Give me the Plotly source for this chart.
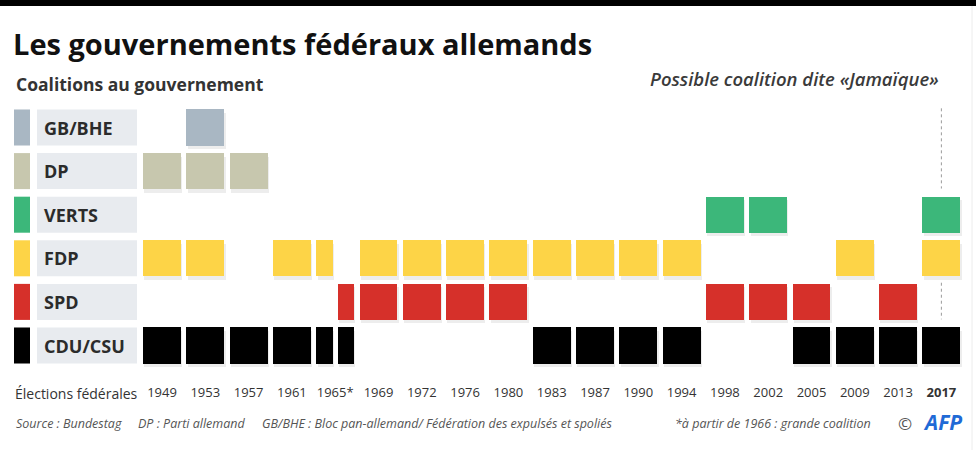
import plotly.graph_objects as go

# ---------------- data ----------------
elections = ["1949", "1953", "1957", "1961", "1965", "1969", "1972", "1976", "1980",
             "1983", "1987", "1990", "1994", "1998", "2002", "2005", "2009", "2013", "2017"]
tick_labels = ["1949", "1953", "1957", "1961", "1965*", "1969", "1972", "1976", "1980",
               "1983", "1987", "1990", "1994", "1998", "2002", "2005", "2009", "2013", "<b>2017</b>"]
# mid-term change of government: cabinet -> legislature it belongs to
midterm = {"1966": "1965"}

parties = ["GB/BHE", "DP", "VERTS", "FDP", "SPD", "CDU/CSU"]
gb_bhe = ["1953"]
dp = ["1949", "1953", "1957"]
verts = ["1998", "2002", "2017"]
fdp = ["1949", "1953", "1961", "1965", "1969", "1972", "1976", "1980", "1983", "1987",
       "1990", "1994", "2009", "2017"]
spd = ["1966", "1969", "1972", "1976", "1980", "1998", "2002", "2005", "2013"]
cdu_csu = ["1949", "1953", "1957", "1961", "1965", "1966", "1983", "1987", "1990", "1994",
           "2005", "2009", "2013", "2017"]
membership = [gb_bhe, dp, verts, fdp, spd, cdu_csu]
jamaica_year = "2017"

footer_notes = ["Source : Bundestag", "DP : Parti allemand",
                "GB/BHE : Bloc pan-allemand/ Fédération des expulsés et spoliés"]

# ---------------- styles ----------------
colors = ["#a9b7c3", "#c7c7ae", "#3cb77a", "#fdd447", "#d6302a", "#000000"]
W, H = 980, 450
M_T, M_B = 100, 75
X0_PX, PITCH_X = 143, 43.3
Y0_PX, PITCH_Y = 127.5, 43.6
BOX = 0.877
THICK = 0.826
footer_x_px = [14, 136, 260]

x_range = [(0 - X0_PX) / PITCH_X, (W - X0_PX) / PITCH_X]
y_range = [(H - M_B - Y0_PX) / PITCH_Y, (M_T - Y0_PX) / PITCH_Y]


def px_x(p):
    return p / W


def px_y(p):
    return (H - M_B - p) / (H - M_T - M_B)


def span(cab):
    if cab in midterm:
        col = elections.index(midterm[cab])
        return col + 0.5, col + BOX
    col = elections.index(cab)
    if cab in midterm.values():
        return col, col + 0.5 - (1 - BOX)
    return col, col + BOX


fig = go.Figure()

# soft shadows
for r, cabs in enumerate(membership):
    s = [span(c) for c in cabs]
    fig.add_trace(go.Bar(
        orientation="h", y=[r + 0.08] * len(s), base=[a + 0.03 for a, b in s],
        x=[b - a for a, b in s], width=THICK, marker=dict(color="rgba(0,0,0,0.07)", line=dict(width=0)),
        hoverinfo="skip", showlegend=False))

for r, (name, cabs) in enumerate(zip(parties, membership)):
    s = [span(c) for c in cabs]
    fig.add_trace(go.Bar(
        orientation="h", y=[r] * len(s), base=[a for a, b in s], x=[b - a for a, b in s],
        width=THICK, marker=dict(color=colors[r], line=dict(width=0)), name=name,
        showlegend=False))

# dotted line in 2017 column for rows outside the possible coalition
col17 = elections.index(jamaica_year) + BOX / 2
rows_out = [r for r, cabs in enumerate(membership) if jamaica_year not in cabs]
groups = []
for r in rows_out:
    if groups and groups[-1][-1] == r - 1:
        groups[-1].append(r)
    else:
        groups.append([r])
for g in groups:
    fig.add_trace(go.Scatter(x=[col17, col17], y=[g[0] - 0.44, g[-1] + 0.4], mode="lines",
                             line=dict(color="#9a9a9a", width=1, dash="dot"),
                             hoverinfo="skip", showlegend=False))

shapes = []
annotations = []
# top black band
shapes.append(dict(type="rect", xref="paper", yref="paper", x0=0, x1=px_x(976),
                   y0=px_y(6), y1=px_y(0), fillcolor="#000", line=dict(width=0), layer="above"))
# faint right border
shapes.append(dict(type="line", xref="paper", yref="paper", x0=px_x(972), x1=px_x(972),
                   y0=px_y(450), y1=px_y(6), line=dict(color="#ececec", width=1)))
# row label boxes
for r, name in enumerate(parties):
    shapes.append(dict(type="rect", xref="paper", yref="y", x0=px_x(14), x1=px_x(30),
                       y0=r - THICK / 2, y1=r + THICK / 2, fillcolor=colors[r], line=dict(width=0)))
    shapes.append(dict(type="rect", xref="paper", yref="y", x0=px_x(37), x1=px_x(137),
                       y0=r - THICK / 2, y1=r + THICK / 2, fillcolor="#e8ebef", line=dict(width=0)))
    annotations.append(dict(text=name, xref="paper", yref="y", x=px_x(42), y=r,
                            xanchor="left", yanchor="middle", showarrow=False,
                            font=dict(family="Open Sans", size=18, color="#2b2b2b", weight="bold")))

foot_font = dict(family="Open Sans", size=12.5, color="#555")
for txt, xp in zip(footer_notes, footer_x_px):
    annotations.append(dict(text="<i>" + txt + "</i>", xref="paper", yref="paper", x=px_x(xp),
                            y=px_y(423), xanchor="left", yanchor="middle", showarrow=False,
                            font=foot_font))

annotations += [
    dict(text="Coalitions au gouvernement", xref="paper", yref="paper", x=px_x(14), y=px_y(84),
         xanchor="left", yanchor="middle", showarrow=False,
         font=dict(family="Open Sans", size=17.5, color="#333", weight="bold")),
    dict(text="<i>Possible coalition dite «Jamaïque»</i>", xref="paper", yref="paper",
         x=px_x(941), y=px_y(79), xanchor="right", yanchor="middle", showarrow=False,
         font=dict(family="Open Sans", size=18.5, color="#3a3a3a", weight=600)),
    dict(text="Élections fédérales", xref="paper", yref="paper", x=px_x(13), y=px_y(393),
         xanchor="left", yanchor="middle", showarrow=False,
         font=dict(family="Open Sans", size=14, color="#333")),
    dict(text="<i>*à partir de 1966 : grande coalition</i>", xref="paper", yref="paper",
         x=px_x(873), y=px_y(423), xanchor="right", yanchor="middle", showarrow=False,
         font=foot_font),
    dict(text="©", xref="paper", yref="paper", x=px_x(905), y=px_y(423), xanchor="center",
         yanchor="middle", showarrow=False, font=dict(family="Open Sans", size=17, color="#555")),
    dict(text="<b><i>AFP</i></b>", xref="paper", yref="paper", x=px_x(942), y=px_y(422),
         xanchor="center", yanchor="middle", showarrow=False,
         font=dict(family="Open Sans", size=21, color="#1f6ad6")),
]

fig.update_layout(
    width=W, height=H, margin=dict(l=0, r=0, t=M_T, b=M_B),
    paper_bgcolor="white", plot_bgcolor="white", barmode="overlay", bargap=0,
    title=dict(text="Les gouvernements fédéraux allemands", x=px_x(13), xanchor="left",
               xref="paper", y=1 - 45 / H, yref="container", yanchor="middle",
               font=dict(family="Open Sans", size=29, color="#111", weight="bold")),
    xaxis=dict(range=x_range, showgrid=False, zeroline=False, showline=False, ticks="",
               tickvals=[i + BOX / 2 for i in range(len(elections))], ticktext=tick_labels,
               tickfont=dict(family="Open Sans", size=13, color="#333"), ticklabelstandoff=8,
               fixedrange=True),
    yaxis=dict(range=y_range, showgrid=False, zeroline=False, showline=False,
               showticklabels=False, fixedrange=True),
    shapes=shapes, annotations=annotations, showlegend=False,
)

fig.write_html("out.html", config={"displayModeBar": False},
               post_script="document.body.style.margin='0';document.body.style.overflow='hidden';")
